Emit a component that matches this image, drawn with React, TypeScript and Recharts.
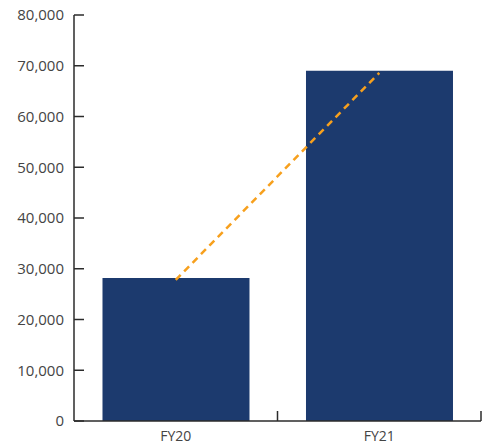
import React from 'react';
import { ComposedChart, Bar, Line, XAxis, YAxis } from 'recharts';

const categories = ['FY20', 'FY21'];
const barValues = [28200, 69000];
const lineValues = [27800, 68600];
const yTicks = [0, 10000, 20000, 30000, 40000, 50000, 60000, 70000, 80000];

const data = categories.map((c, i) => ({ name: c, bar: barValues[i], line: lineValues[i] }));

const FONT = '"Open Sans", sans-serif';
const TEXT = '#444444';
const AXIS = '#2b2b2b';

const YTick = (props: any) => {
  const { x, y, payload } = props;
  return (
    <g>
      <line x1={x + 10} y1={y} x2={x + 20} y2={y} stroke={AXIS} strokeWidth={1.5} />
      <text x={x} y={y} dy="0.36em" textAnchor="end" fill={TEXT} fontSize={15} fontFamily={FONT}>
        {Number(payload.value).toLocaleString('en-US')}
      </text>
    </g>
  );
};

const XTick = (props: any) => {
  const { x, y, payload } = props;
  const off = payload && typeof payload.offset === 'number' ? payload.offset : 0;
  const axisY = y - 10;
  return (
    <g>
      <line x1={x + off} y1={axisY} x2={x + off} y2={axisY - 10} stroke={AXIS} strokeWidth={1.5} />
      <text x={x} y={y} dy="0.71em" textAnchor="middle" fill={TEXT} fontSize={14} fontFamily={FONT}>
        {payload.value}
      </text>
    </g>
  );
};

export default function App() {
  return (
    <div style={{ marginTop: -8 }}>
      <ComposedChart
        width={482}
        height={453}
        data={data}
        margin={{ top: 15, right: 9, bottom: 0, left: 0 }}
        barCategoryGap="14%"
      >
        <XAxis
          dataKey="name"
          height={32}
          tickSize={0}
          tickMargin={10}
          tick={<XTick />}
          tickLine={false}
          axisLine={{ stroke: AXIS, strokeWidth: 1.5 }}
        />
        <YAxis
          width={66}
          domain={[0, 80000]}
          ticks={yTicks}
          interval={0}
          tickSize={0}
          tickMargin={10}
          tick={<YTick />}
          tickLine={false}
          axisLine={{ stroke: AXIS, strokeWidth: 1.5 }}
        />
        <Bar dataKey="bar" fill="#1c3a6e" isAnimationActive={false} />
        <Line
          dataKey="line"
          type="linear"
          stroke="#f7a01d"
          strokeWidth={2.5}
          strokeDasharray="7 5"
          dot={false}
          activeDot={false}
          isAnimationActive={false}
        />
      </ComposedChart>
    </div>
  );
}
